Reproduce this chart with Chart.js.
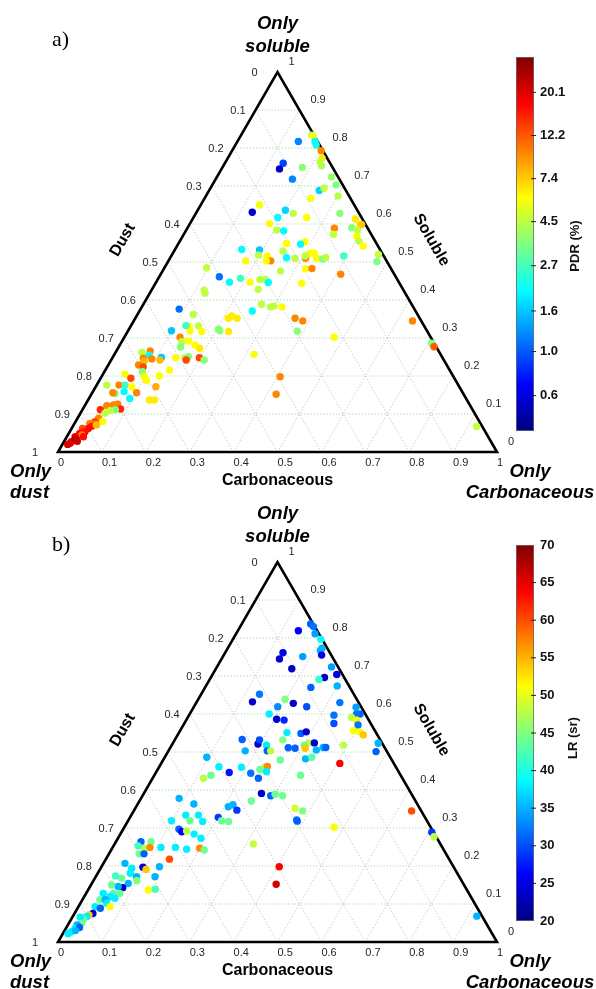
<!DOCTYPE html>
<html><head><meta charset="utf-8">
<script src="https://cdn.jsdelivr.net/npm/chart.js@4.4.1/dist/chart.umd.min.js"></script>
<style>
html,body{margin:0;padding:0;background:#fff;}
#wrap{position:relative;width:596px;height:989px;overflow:hidden;background:#fff;}
.panel{position:absolute;left:0;width:596px;}
canvas{display:block;}
</style></head><body>
<div id="wrap">
<div class="panel" style="top:490px;height:499px"><canvas id="cB" width="596" height="499"></canvas></div>
<div class="panel" style="top:0;height:506px"><canvas id="cA" width="596" height="506"></canvas></div>
</div>
<script>
// ---------- DATA ----------
const ternaryTicks = [0,0.1,0.2,0.3,0.4,0.5,0.6,0.7,0.8,0.9,1];
const axisNames = ["Dust","Soluble","Carbonaceous"];
const cornerNames = [["Only","soluble"],["Only","dust"],["Only","Carbonaceous"]];

// Panel a) : carbonaceous fraction, soluble fraction (dust = 1 - both), PDR (%)
const carbA = [0.139,0.161,0.167,0.177,0.184,0.203,0.215,0.215,0.224,0.133,0.132,0.175,0.182,0.261,0.282,0.251,0.259,0.242,0.301,0.134,
0.127,0.200,0.222,0.192,0.258,0.328,0.181,0.206,0.223,0.371,0.389,0.392,0.335,0.374,0.390,0.341,0.397,0.408,0.424,0.470,
0.476,0.246,0.286,0.279,0.152,0.193,0.248,0.265,0.285,0.313,0.322,0.309,0.334,0.349,0.354,0.393,0.176,0.198,0.219,0.233,
0.223,0.096,0.137,0.167,0.187,0.214,0.233,0.245,0.269,0.323,0.337,0.410,0.333,0.305,0.319,0.364,0.385,0.386,0.478,0.407,
0.421,0.635,0.708,0.718,0.920,0.256,0.242,0.120,0.126,0.088,0.127,0.154,0.134,0.141,0.169,0.125,0.099,0.127,0.137,0.151,
0.141,0.171,0.186,0.165,0.172,0.171,0.198,0.212,0.144,0.146,0.131,0.137,0.140,0.151,0.204,0.209,0.230,0.212,0.217,0.232,
0.257,0.269,0.293,0.300,0.318,0.060,0.077,0.080,0.111,0.091,0.071,0.077,0.069,0.082,0.111,0.087,0.098,0.107,0.050,0.069,
0.023,0.051,0.065,0.071,0.082,0.101,0.053,0.047,0.093,0.064,0.050,0.073,0.086,0.075,0.064,0.041,0.056,0.048,0.062,0.044,
0.035,0.043,0.038,0.052,0.025,0.035,0.025,0.032,0.019,0.027,0.017,0.016,0.038,0.022,0.030,0.012];
const solA = [0.817,0.834,0.830,0.817,0.808,0.793,0.773,0.764,0.753,0.760,0.745,0.718,0.749,0.724,0.703,0.688,0.694,0.668,0.674,0.650,
0.631,0.636,0.628,0.617,0.617,0.628,0.601,0.584,0.582,0.613,0.597,0.599,0.589,0.590,0.584,0.573,0.567,0.555,0.542,0.520,
0.501,0.549,0.553,0.547,0.533,0.532,0.529,0.511,0.510,0.523,0.523,0.510,0.510,0.508,0.512,0.516,0.503,0.518,0.516,0.503,
0.503,0.485,0.461,0.447,0.457,0.447,0.454,0.454,0.476,0.482,0.483,0.468,0.444,0.516,0.382,0.352,0.345,0.318,0.302,0.198,
0.152,0.345,0.286,0.277,0.067,0.446,0.428,0.426,0.418,0.376,0.362,0.332,0.330,0.319,0.317,0.333,0.319,0.302,0.290,0.292,
0.276,0.282,0.273,0.248,0.251,0.242,0.248,0.242,0.248,0.216,0.200,0.172,0.137,0.137,0.323,0.319,0.317,0.352,0.358,0.352,
0.371,0.389,0.382,0.384,0.257,0.262,0.266,0.255,0.249,0.245,0.247,0.238,0.229,0.224,0.242,0.211,0.198,0.189,0.205,0.194,
0.176,0.176,0.176,0.159,0.172,0.156,0.154,0.156,0.141,0.124,0.122,0.126,0.113,0.111,0.109,0.111,0.102,0.089,0.080,0.080,
0.075,0.068,0.062,0.071,0.062,0.053,0.049,0.045,0.040,0.032,0.027,0.023,0.040,0.035,0.028,0.020];
const pdrA = [1.2,4.5,6,2.0,2.2,10,6.5,4.5,4.3,0.9,0.55,1.2,3.6,3.8,3.5,1.7,4.6,5.8,4.4,5.8,
0.55,1.7,4.5,2.0,6,3.6,6,4.5,2.0,6.5,6.5,7.5,10,3.6,4.5,4.6,6,4.4,6,4.6,
3.4,6,6,2.0,2.0,1.6,4.5,2.0,4.5,6,6,10,6,3.5,4.5,2.6,6,4.5,6,10,
6,4.6,1.1,2.0,2.6,6,4.5,4.5,4.5,6,10,10,6,4.5,6,10,10,3.6,6,10,
10,10,3.5,12,4.6,2.0,4.5,4.6,4.5,1.1,4.5,4.5,6,6,6,2.6,1.6,10,4.5,6,
3.5,6,6.5,4.5,3.6,13,13,3.6,6,6,6,8.5,6.5,6.5,3.6,3.6,6.5,6.5,6.5,6.5,
2.0,4.5,4.5,4.5,6,4.5,10,2.0,1.6,10,10,8,10,13,8,3.5,6,6,6,13,
4.5,10,2.6,2.0,6,10,3.5,10,2.0,10,10,10,15,3.5,4.5,15,4.5,10,6,13,
10,16,17,8,13,17,18,10,18,18,20,20,17,24,22,21];

// Panel b) : carbonaceous fraction, soluble fraction, LR (sr)
const carbB = [0.138,0.157,0.167,0.180,0.200,0.215,0.214,0.223,0.132,0.132,0.182,0.173,0.261,0.283,0.259,0.249,0.241,0.299,0.327,0.133,
0.127,0.198,0.191,0.222,0.257,0.181,0.205,0.223,0.370,0.388,0.380,0.373,0.388,0.330,0.341,0.398,0.395,0.411,0.423,0.468,
0.474,0.246,0.279,0.289,0.246,0.310,0.322,0.302,0.308,0.285,0.269,0.348,0.354,0.336,0.391,0.407,0.195,0.193,0.216,0.225,
0.233,0.153,0.175,0.096,0.136,0.267,0.323,0.335,0.242,0.246,0.633,0.188,0.167,0.217,0.241,0.233,0.251,0.116,0.129,0.268,
0.292,0.300,0.319,0.255,0.087,0.128,0.210,0.218,0.234,0.201,0.213,0.230,0.099,0.124,0.141,0.153,0.171,0.127,0.137,0.147,
0.168,0.189,0.143,0.171,0.199,0.212,0.110,0.145,0.132,0.135,0.152,0.137,0.057,0.080,0.073,0.085,0.056,0.069,0.080,0.095,
0.105,0.049,0.071,0.074,0.093,0.061,0.044,0.099,0.083,0.076,0.064,0.047,0.062,0.077,0.059,0.072,0.039,0.040,0.052,0.060,
0.072,0.038,0.052,0.042,0.035,0.032,0.028,0.018,0.029,0.021,0.021,0.017,0.030,0.316,0.405,0.421,0.383,0.333,0.364,0.385,
0.386,0.478,0.707,0.718,0.920,0.012,0.025];
const solB = [0.819,0.837,0.830,0.811,0.797,0.773,0.767,0.755,0.761,0.745,0.751,0.719,0.724,0.704,0.696,0.691,0.670,0.674,0.630,0.652,
0.632,0.639,0.619,0.628,0.619,0.600,0.586,0.584,0.618,0.600,0.600,0.591,0.584,0.597,0.575,0.571,0.556,0.553,0.545,0.523,
0.501,0.551,0.549,0.553,0.532,0.524,0.524,0.518,0.510,0.510,0.511,0.512,0.512,0.505,0.518,0.470,0.521,0.532,0.518,0.503,
0.503,0.533,0.503,0.486,0.461,0.479,0.482,0.486,0.460,0.462,0.345,0.460,0.446,0.444,0.431,0.454,0.448,0.431,0.439,0.391,
0.385,0.389,0.385,0.371,0.378,0.363,0.356,0.361,0.347,0.328,0.319,0.317,0.319,0.334,0.319,0.334,0.317,0.297,0.290,0.292,
0.284,0.273,0.249,0.244,0.247,0.242,0.249,0.218,0.198,0.172,0.139,0.137,0.264,0.264,0.247,0.249,0.253,0.232,0.232,0.197,
0.191,0.207,0.194,0.181,0.172,0.168,0.174,0.161,0.154,0.143,0.146,0.150,0.128,0.128,0.119,0.115,0.128,0.111,0.111,0.102,
0.093,0.093,0.089,0.075,0.071,0.067,0.060,0.065,0.049,0.045,0.036,0.027,0.038,0.258,0.198,0.152,0.321,0.439,0.352,0.345,
0.318,0.302,0.289,0.277,0.068,0.022,0.030];
const lrB = [26,31,32,34,39,35,35,25,25,24,34,23,34,25,23,41,31,35,32,32,
24,45,33,24,30,38,24,28,34,31,32,48,51,32,30,32,51,51,54,35,
31,38,31,24,45,48,24,44,54,31,31,35,31,35,48,64,24,30,38,31,
48,31,35,35,38,44,35,43,48,57,60,38,27,32,31,44,38,48,44,24,
31,44,44,44,35,35,35,35,29,29,44,44,38,38,44,38,38,31,26,48,
38,38,38,38,57,44,38,60,35,35,42,51,31,44,48,57,42,44,31,24,
54,35,38,38,35,44,42,45,35,24,35,44,42,44,38,38,38,44,35,38,
51,38,31,24,54,38,44,38,44,35,38,38,31,48,64,66,32,44,49,45,
31,51,29,48,35,38,35];

// colour bar ticks
const pdrTicks = ["0.6","1.0","1.6","2.7","4.5","7.4","12.2","20.1"];
const lrTicks = [20,25,30,35,40,45,50,55,60,65,70];

// ---------- HELPERS ----------
const H = Math.sqrt(3)/2;
const SANS = '"Liberation Sans", Arial, Helvetica, sans-serif';
function clamp(v){return Math.max(0,Math.min(1,v));}
function jet(t){
  t = clamp(t);
  const r = clamp(1.5-Math.abs(4*t-3)), g = clamp(1.5-Math.abs(4*t-2)), b = clamp(1.5-Math.abs(4*t-1));
  return 'rgb('+Math.round(r*255)+','+Math.round(g*255)+','+Math.round(b*255)+')';
}
const lnMin = -0.92, lnMax = 3.41;
const pdrT = v => (Math.log(v)-lnMin)/(lnMax-lnMin);
const lrT = v => (v-20)/50;

function makePoints(carb, sol){
  return carb.map((c,i)=>({x: c + sol[i]/2, y: sol[i]*H}));
}

function ternaryPlugin(cfg){
  return {
    id: 'tern_'+cfg.key,
    beforeDatasetsDraw(chart){
      const ctx = chart.ctx, xs = chart.scales.x, ys = chart.scales.y;
      const P = (c,s)=>[xs.getPixelForValue(c+s/2), ys.getPixelForValue(s*H)];
      ctx.save();
      // grid
      ctx.lineWidth = 0.8;
      ctx.setLineDash([1.2,2]);
      for (let k=1;k<ternaryTicks.length-1;k++){
        const v = ternaryTicks[k];
        let a,b;
        ctx.strokeStyle = '#b4b4b4';
        a=P(v,0); b=P(v,1-v);
        ctx.beginPath(); ctx.moveTo(a[0],a[1]); ctx.lineTo(b[0],b[1]); ctx.stroke();
        a=P(1-v,0); b=P(0,1-v);
        ctx.beginPath(); ctx.moveTo(a[0],a[1]); ctx.lineTo(b[0],b[1]); ctx.stroke();
        ctx.strokeStyle = '#7ee07e';
        a=P(0,v); b=P(1-v,v);
        ctx.beginPath(); ctx.moveTo(a[0],a[1]); ctx.lineTo(b[0],b[1]); ctx.stroke();
      }
      ctx.setLineDash([]);
      // triangle
      const A=P(0,0), B=P(1,0), C=P(0,1);
      ctx.strokeStyle='#000'; ctx.lineWidth=2.6; ctx.lineJoin='miter';
      ctx.beginPath(); ctx.moveTo(A[0],A[1]); ctx.lineTo(B[0],B[1]); ctx.lineTo(C[0],C[1]); ctx.closePath(); ctx.stroke();
      // tick labels
      ctx.fillStyle='#262626'; ctx.font='11px '+SANS; ctx.textBaseline='middle';
      ternaryTicks.forEach(v=>{
        const lab = String(v);
        let p = P(v,0);
        ctx.textAlign='left'; ctx.fillText(lab, p[0], p[1]+11);
        p = P(0,1-v);
        ctx.textAlign='right'; ctx.fillText(lab, p[0]-((v===0||v===1)?20:10), p[1]+1);
        p = P(1-v,v);
        ctx.textAlign='left'; ctx.fillText(lab, p[0]+11, p[1]-10);
      });
      // axis titles
      ctx.fillStyle='#000'; ctx.font='bold 16px '+SANS; ctx.textAlign='center';
      ctx.fillText(axisNames[2], (A[0]+B[0])/2, A[1]+29);
      let m = P(0,0.5);
      ctx.save(); ctx.translate(m[0]-45, m[1]-22); ctx.rotate(-Math.PI/3); ctx.fillText(axisNames[0],0,0); ctx.restore();
      m = P(0.5,0.5);
      ctx.save(); ctx.translate(m[0]+44, m[1]-22); ctx.rotate(Math.PI/3); ctx.fillText(axisNames[1],0,0); ctx.restore();
      // corner labels
      ctx.font='italic bold 18.5px '+SANS;
      ctx.textAlign='center';
      ctx.fillText(cornerNames[0][0], C[0], 24);
      ctx.fillText(cornerNames[0][1], C[0], 47);
      ctx.textAlign='left';
      ctx.fillText(cornerNames[1][0], 10, A[1]+20);
      ctx.fillText(cornerNames[1][1], 10, A[1]+41);
      ctx.textAlign='center';
      ctx.fillText(cornerNames[2][0], 530, B[1]+20);
      ctx.fillText(cornerNames[2][1], 530, B[1]+41);
      // panel letter
      ctx.font='22px "Liberation Serif", "Times New Roman", serif';
      ctx.textAlign='left';
      ctx.fillText(cfg.letter, 52, cfg.letterY);
      // colour bar
      const cb = cfg.cbar;
      const g = ctx.createLinearGradient(0, cb.y1, 0, cb.y0);
      [[0,0],[1/8,1/8],[3/8,3/8],[5/8,5/8],[7/8,7/8],[1,1]].forEach(s=>g.addColorStop(s[0], jet(s[1])));
      ctx.fillStyle=g; ctx.fillRect(cb.x, cb.y0, cb.w, cb.y1-cb.y0);
      ctx.strokeStyle='#6b6b6b'; ctx.lineWidth=0.8;
      ctx.strokeRect(cb.x+0.5, cb.y0+0.5, cb.w-1, cb.y1-cb.y0-1);
      ctx.font='bold 13px '+SANS; ctx.fillStyle='#111'; ctx.textAlign='left'; ctx.textBaseline='middle';
      cfg.ticks.forEach(t=>{
        const y = cb.y1 - cfg.tPos(t)*(cb.y1-cb.y0);
        ctx.strokeStyle='#222'; ctx.lineWidth=1;
        if (y>cb.y0+2 && y<cb.y1-2){ ctx.beginPath(); ctx.moveTo(cb.x+cb.w-3,y); ctx.lineTo(cb.x+cb.w+2,y); ctx.stroke(); }
        ctx.fillText(String(t), cb.x+cb.w+6, y);
      });
      ctx.save(); ctx.translate(cfg.titleX, cfg.titleY); ctx.rotate(-Math.PI/2);
      ctx.textAlign='center'; ctx.fillText(cfg.title, 0, 0); ctx.restore();
      ctx.restore();
    }
  };
}

function build(canvasId, carb, sol, vals, colorT, cfg, padBottom){
  const pts = makePoints(carb, sol);
  const cols = vals.map(v=>jet(colorT(v)));
  return new Chart(document.getElementById(canvasId), {
    type:'scatter',
    data:{datasets:[{data:pts, pointRadius:3.7, pointHoverRadius:3.7, pointBackgroundColor:cols, pointBorderWidth:0, borderWidth:0, clip:false}]},
    options:{
      responsive:false, animation:false, devicePixelRatio:1, events:[],
      layout:{padding:{left:58,right:99,top:72,bottom:padBottom}},
      plugins:{legend:{display:false}, tooltip:{enabled:false}},
      scales:{x:{type:'linear',min:0,max:1,display:false}, y:{type:'linear',min:0,max:H,display:false}}
    },
    plugins:[ternaryPlugin(cfg)]
  });
}

build('cA', carbA, solA, pdrA, pdrT, {
  key:'a', letter:'a)', letterY:40,
  cbar:{x:516, w:18, y0:57, y1:431},
  ticks: pdrTicks, tPos: t=>pdrT(parseFloat(t)),
  title:'PDR (%)', titleX:575, titleY:246
}, 54);
build('cB', carbB, solB, lrB, lrT, {
  key:'b', letter:'b)', letterY:55,
  cbar:{x:516, w:18, y0:55, y1:431},
  ticks: lrTicks, tPos: t=>lrT(t),
  title:'LR (sr)', titleX:573, titleY:248
}, 47);
</script>
</body></html>
